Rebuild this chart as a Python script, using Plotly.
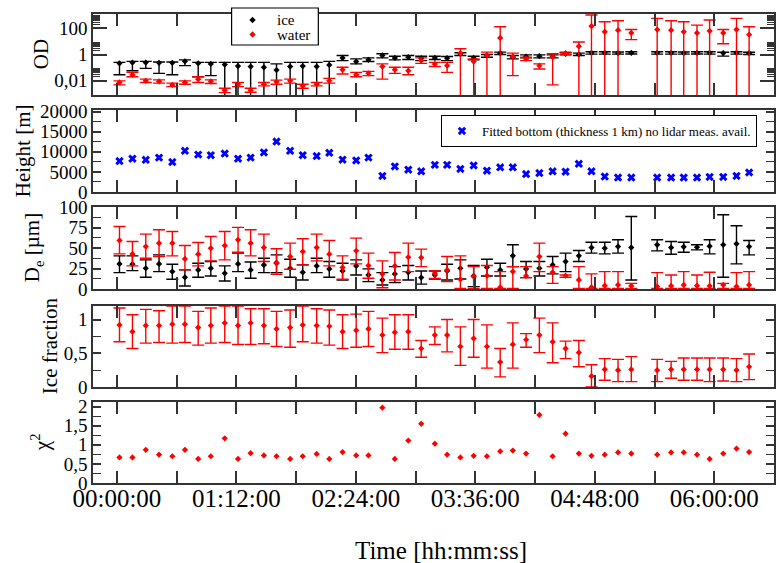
import plotly.graph_objects as go

# ---------------------------------------------------------------- data
times = [
    "00:01:34", "00:09:22", "00:17:24", "00:25:24", "00:33:24", "00:41:00",
    "00:49:00", "00:56:36", "01:05:00", "01:13:00", "01:20:36", "01:28:36",
    "01:36:12", "01:44:24", "01:52:00", "02:00:24", "02:08:00", "02:16:00",
    "02:24:12", "02:31:36", "02:40:00", "02:47:30", "02:55:36", "03:03:24",
    "03:11:36", "03:19:00", "03:27:00", "03:35:00", "03:43:00", "03:51:00",
    "03:58:36", "04:06:36", "04:14:36", "04:22:36", "04:30:24", "04:38:24",
    "04:46:00", "04:54:00", "05:02:00", "05:10:00", "05:25:36", "05:34:00",
    "05:41:36", "05:49:36", "05:57:12", "06:05:24", "06:13:24", "06:21:00",
]

# optical depth (lower bound 1e-5 = below the plotted range)
od_ice = [0.21, 0.24, 0.24, 0.23, 0.23, 0.30, 0.21, 0.19, 0.17, 0.13,
          0.12, 0.105, 0.065, 0.12, 0.13, 0.12, 0.16, 0.55, 0.29, 0.39,
          0.84, 0.55, 0.62, 0.52, 0.55, 0.52, 1.13, 0.55, 0.84, 1.27,
          0.62, 0.70, 0.74, 0.70, 1.13, 1.0, 1.35, 1.35, 1.30, 1.35,
          1.35, 1.35, 1.30, 1.35, 1.35, 1.30, 1.35, 1.25]
od_ice_hi = [0.25, 0.30, 0.30, 0.27, 0.27, 0.39, 0.25, 0.25, 0.25, 0.25,
             0.25, 0.25, 0.19, 0.25, 0.25, 0.25, 0.30, 0.84, 0.46, 0.55,
             1.13, 0.74, 0.84, 0.74, 0.74, 0.70, 1.35, 0.74, 1.0, 1.52,
             0.84, 0.94, 0.94, 0.94, 1.35, 1.27, 1.61, 1.61, 1.55, 1.61,
             1.61, 1.61, 1.55, 1.61, 1.61, 1.50, 1.61, 1.50]
od_ice_lo = [0.028, 0.057, 0.087, 0.036, 0.028, 0.14, 0.020, 0.024, 1e-5, 1e-5,
             1e-5, 1e-5, 1e-5, 1e-5, 1e-5, 1e-5, 1e-5, 0.34, 0.19, 0.29,
             0.55, 0.39, 0.41, 0.34, 0.41, 0.34, 0.84, 0.39, 0.62, 1.0,
             0.46, 0.55, 0.55, 0.55, 0.94, 0.84, 1.06, 1.06, 1.06, 1.10,
             1.06, 1.06, 1.06, 1.10, 1.06, 0.75, 1.06, 1.00]

od_water = [0.0072, 0.028, 0.0096, 0.0086, 0.0047, 0.0072, 0.013, 0.0086, 0.0018, 0.0053,
            0.0018, 0.0053, 0.0081, 0.0096, 0.0040, 0.0053, 0.0096, 0.069, 0.028, 0.036,
            0.12, 0.069, 0.057, 0.34, 0.19, 0.14, 1.27, 0.29, 0.84, 18.5,
            0.70, 0.46, 0.14, 0.62, 1.27, 4.2, 148, 54, 72, 45,
            81, 72, 54, 45, 64, 45, 81, 33]
od_water_hi = [0.0096, 0.043, 0.013, 0.0115, 0.0064, 0.0096, 0.020, 0.0115, 0.0026, 0.0072,
               0.0026, 0.0072, 0.011, 0.013, 0.0053, 0.0072, 0.015, 0.105, 0.043, 0.051,
               0.19, 0.105, 0.105, 0.55, 0.25, 0.25, 2.75, 0.46, 1.52, 132,
               1.27, 0.62, 0.19, 1.13, 1.52, 9.0, 1050, 322, 383, 81,
               580, 383, 322, 177, 434, 81, 580, 132]
od_water_lo = [0.0047, 0.020, 0.0072, 0.0064, 0.0035, 0.0053, 0.0072, 0.0060, 0.0012, 0.0035,
               0.0013, 0.0040, 0.0053, 0.0064, 0.0026, 0.0040, 0.0064, 0.032, 0.020, 0.024,
               0.013, 0.036, 0.028, 0.21, 0.12, 0.043, 1e-5, 1e-5, 1e-5, 1e-5,
               0.024, 0.34, 0.077, 0.0047, 1.0, 1e-5, 1e-5, 1e-5, 1e-5, 13.7,
               1e-5, 1e-5, 1e-5, 1e-5, 1e-5, 6.7, 1e-5, 1e-5]

# cloud height [m]
height = [7700, 8300, 8000, 8550, 7450, 10250, 9300, 9150, 9550, 8300,
          8550, 9850, 12550, 10250, 9150, 8950, 9750, 8050, 7850, 8550,
          4000, 6350, 5550, 5150, 6750, 6750, 5750, 6600, 5300, 6150,
          6150, 4450, 4700, 5150, 5050, 7000, 5150, 3850, 3600, 3600,
          3600, 3600, 3600, 3600, 3750, 3750, 4000, 4850]

# effective diameter [um]
de_ice = [30.6, 30.2, 25.3, 30.6, 21.2, 14.3, 23.3, 25.3, 19.2, 30.6,
          23.3, 29.4, 31.4, 25.3, 20.4, 28.2, 24.5, 22.0, 28.2, 17.1,
          11.0, 18.4, 20.4, 14.0, 17.0, 22.0, 25.3, 15.9, 26.5, 23.3,
          40.4, 24.5, 25.3, 29.4, 33.5, 40.4, 50.6, 49.8, 51.8, 50.6,
          53.9, 50.6, 51.4, 51.0, 52.2, 53.9, 55.1, 51.8]
de_ice_hi = [40.4, 40.4, 35.5, 41.6, 30.2, 23.3, 31.4, 33.5, 28.2, 43.7,
             33.0, 37.5, 41.6, 36.3, 29.4, 37.5, 33.5, 31.4, 35.5, 24.5,
             20.0, 27.3, 28.6, 22.0, 22.0, 30.2, 35.5, 28.6, 36.3, 31.4,
             53.9, 33.5, 33.5, 39.6, 43.7, 46.9, 57.1, 57.1, 60.0, 88.5,
             60.0, 57.9, 57.1, 53.9, 60.0, 90.6, 77.1, 59.2]
de_ice_lo = [20.0, 22.4, 14.3, 21.2, 11.8, 3.7, 14.3, 15.9, 9.8, 21.2,
             13.1, 20.0, 20.0, 14.3, 11.0, 20.0, 14.3, 11.0, 17.1, 9.0,
             4.9, 7.8, 11.0, 6.0, 12.0, 11.0, 12.2, 2.9, 15.9, 15.9,
             27.3, 13.9, 15.9, 18.4, 21.2, 33.5, 43.7, 42.8, 43.7, 11.0,
             46.5, 42.4, 44.9, 47.7, 42.8, 14.3, 30.6, 41.6]

de_water = [59.2, 42.8, 51.8, 55.9, 55.9, 36.7, 42.4, 49.8, 53.0, 60.0,
            55.9, 50.6, 32.2, 39.6, 45.7, 50.6, 42.4, 26.1, 46.5, 28.6,
            18.4, 28.2, 38.8, 38.4, 19.2, 23.3, 11.8, 15.1, 16.3, 2.0,
            21.2, 15.9, 39.6, 20.4, 16.3, 11.0, 2.0, 4.0, 4.9, 3.7,
            2.9, 3.7, 4.9, 4.0, 3.7, 4.9, 2.9, 4.9]
de_water_hi = [76.3, 57.9, 66.9, 72.2, 70.2, 53.0, 56.7, 64.1, 70.2, 75.1,
               72.2, 66.9, 49.0, 55.9, 61.2, 66.9, 59.2, 40.4, 62.0, 43.7,
               34.3, 44.5, 55.9, 48.6, 22.0, 39.6, 40.4, 27.3, 28.6, 21.2,
               27.3, 27.3, 55.9, 27.3, 17.1, 27.3, 18.4, 21.2, 21.2, 6.9,
               20.0, 17.1, 21.2, 17.1, 20.4, 6.9, 20.0, 21.2]
de_water_lo = [42.8, 28.2, 37.5, 39.6, 40.4, 23.3, 28.2, 34.3, 35.5, 44.9,
               40.4, 33.5, 18.0, 24.1, 29.4, 34.3, 28.2, 11.8, 30.6, 13.1,
               1.6, 11.0, 21.2, 27.3, 13.0, 9.0, 0.8, 0.8, 0.8, 0.8,
               0.8, 13.9, 21.2, 6.9, 14.3, 0.8, 0.8, 0.8, 0.8, 0.8,
               0.8, 0.8, 0.8, 0.8, 0.8, 0.8, 0.8, 0.8]

ice_frac = [0.92, 0.82, 0.91, 0.91, 0.93, 0.93, 0.88, 0.91, 0.95, 0.91,
            0.95, 0.91, 0.86, 0.88, 0.92, 0.91, 0.90, 0.82, 0.84, 0.86,
            0.77, 0.81, 0.82, 0.57, 0.77, 0.77, 0.60, 0.72, 0.60, 0.37,
            0.63, 0.70, 0.77, 0.67, 0.57, 0.51, 0.16, 0.26, 0.25, 0.26,
            0.25, 0.26, 0.26, 0.26, 0.26, 0.26, 0.25, 0.30]
ice_frac_hi = [1.17, 1.07, 1.15, 1.13, 1.20, 1.20, 1.12, 1.17, 1.20, 1.20,
               1.16, 1.16, 1.12, 1.14, 1.20, 1.16, 1.14, 1.07, 1.08, 1.12,
               1.02, 1.07, 1.07, 0.69, 0.89, 1.00, 0.89, 1.00, 0.92, 0.57,
               0.95, 0.79, 1.02, 0.95, 0.68, 0.69, 0.33, 0.42, 0.41, 0.45,
               0.41, 0.38, 0.43, 0.43, 0.43, 0.43, 0.42, 0.49]
ice_frac_lo = [0.67, 0.57, 0.65, 0.66, 0.65, 0.66, 0.62, 0.65, 0.66, 0.63,
               0.63, 0.64, 0.60, 0.59, 0.67, 0.65, 0.62, 0.57, 0.59, 0.60,
               0.51, 0.56, 0.56, 0.44, 0.63, 0.52, 0.32, 0.44, 0.28, 0.15,
               0.28, 0.59, 0.51, 0.36, 0.42, 0.30, 0.00, 0.10, 0.08, 0.08,
               0.08, 0.13, 0.10, 0.10, 0.08, 0.09, 0.08, 0.11]

chi2 = [0.67, 0.67, 0.87, 0.74, 0.70, 0.87, 0.63, 0.70, 1.17, 0.63,
        0.78, 0.72, 0.70, 0.63, 0.70, 0.76, 0.63, 0.81, 0.72, 0.72,
        1.97, 0.63, 1.11, 1.55, 1.03, 0.74, 0.67, 0.71, 0.70, 0.83,
        0.85, 0.77, 1.78, 0.70, 1.29, 0.77, 0.71, 0.74, 0.80, 0.77,
        0.74, 0.80, 0.80, 0.74, 0.63, 0.77, 0.90, 0.81]

# tick labels (comma as decimal separator)
od_ticks = [0.01, 1, 100]
od_ticktext = ["0,01", "1", "100"]
height_ticks = [0, 5000, 10000, 15000, 20000]
height_ticktext = ["0", "5000", "10000", "15000", "20000"]
de_ticks = [0, 25, 50, 75, 100]
de_ticktext = ["0", "25", "50", "75", "100"]
frac_ticks = [0, 0.5, 1]
frac_ticktext = ["0", "0,5", "1"]
chi_ticks = [0, 0.5, 1, 1.5, 2]
chi_ticktext = ["0", "0,5", "1", "1,5", "2"]

# ---------------------------------------------------------------- styling
FONT = "Liberation Serif"
FRAME = "#333333"
RED = "#ff0000"
DAY = "2000-01-01 "
x = [DAY + t for t in times]
MSIZE = 4.8


def err(val, hi, lo, color):
    return dict(type="data", symmetric=False,
                array=[h - v for v, h in zip(val, hi)],
                arrayminus=[v - l for v, l in zip(val, lo)],
                color=color, thickness=1.4, width=6)


def diamonds(color, size=MSIZE):
    return dict(symbol="diamond", size=size, color=color, line=dict(width=0))


fig = go.Figure()

# panel 1: optical depth
fig.add_trace(go.Scatter(x=x, y=od_ice, mode="markers", name="ice", showlegend=False,
                         marker=diamonds("black"),
                         error_y=err(od_ice, od_ice_hi, od_ice_lo, "black"),
                         xaxis="x", yaxis="y"))
fig.add_trace(go.Scatter(x=x, y=od_water, mode="markers", name="water", showlegend=False,
                         marker=diamonds(RED),
                         error_y=err(od_water, od_water_hi, od_water_lo, RED),
                         xaxis="x", yaxis="y"))
# panel 2: height
fig.add_trace(go.Scatter(x=x, y=height, mode="markers",
                         name="Fitted bottom (thickness 1 km) no lidar meas. avail.",
                         marker=dict(symbol="x", size=7.5, color="#0000ff",
                                     line=dict(width=0)),
                         legend="legend2", xaxis="x2", yaxis="y2"))
# panel 3: effective diameter
fig.add_trace(go.Scatter(x=x, y=de_ice, mode="markers", showlegend=False,
                         marker=diamonds("black"),
                         error_y=err(de_ice, de_ice_hi, de_ice_lo, "black"),
                         xaxis="x3", yaxis="y3"))
fig.add_trace(go.Scatter(x=x, y=de_water, mode="markers", showlegend=False,
                         marker=diamonds(RED),
                         error_y=err(de_water, de_water_hi, de_water_lo, RED),
                         xaxis="x3", yaxis="y3"))
# panel 4: ice fraction
fig.add_trace(go.Scatter(x=x, y=ice_frac, mode="markers", showlegend=False,
                         marker=diamonds(RED),
                         error_y=err(ice_frac, ice_frac_hi, ice_frac_lo, RED),
                         xaxis="x4", yaxis="y4"))
# panel 5: chi square
fig.add_trace(go.Scatter(x=x, y=chi2, mode="markers", showlegend=False,
                         marker=diamonds(RED), xaxis="x5", yaxis="y5"))

# ---------------------------------------------------------------- axes
W, H = 779, 563
ML, MR, MT, MB = 93, 3, 14, 80
PH = H - MT - MB


def dom(top_px, bottom_px):
    return [(H - MB - bottom_px) / PH, (H - MB - top_px) / PH]


def px_x(p):
    return (p - ML) / (W - ML - MR)


def px_y(p):
    return (H - MB - p) / PH


domains = [dom(14, 95), dom(110, 192), dom(207, 289), dom(306, 387), dom(402, 483)]

xrange_ = ["1999-12-31 23:45:36", DAY + "06:36:00"]
MIN = 60 * 1000

common = dict(showline=True, mirror="ticks", linecolor=FRAME, linewidth=1.5,
              showgrid=False, zeroline=False, tickcolor=FRAME,
              tickfont=dict(family=FONT, size=19, color="black"))

for i in range(5):
    sfx = "" if i == 0 else str(i + 1)
    fig.layout["xaxis" + sfx] = dict(
        common, type="date", range=xrange_, anchor="y" + sfx,
        domain=[0, 1], tickformat="%H:%M:%S", tick0=DAY + "00:00:00",
        dtick=72 * MIN, ticks="inside", ticklen=12, tickwidth=1.5,
        minor=dict(dtick=36 * MIN, ticks="inside", ticklen=12,
                   tickwidth=1.5, tickcolor=FRAME),
        showticklabels=(i == 4), ticklabelstandoff=-8,
        tickfont=dict(family=FONT, size=25, color="black"),
    )

od_minor = [k * 10.0 ** d for d in (-4, -2, 0, 2) for k in range(2, 10)]

yaxes = [
    dict(type="log", range=[-3.1, 3.1], tickvals=od_ticks, ticktext=od_ticktext,
         ticklen=14, minor=dict(tickvals=od_minor, ticks="inside", ticklen=7,
                                tickcolor=FRAME, tickwidth=1.2)),
    dict(range=[0, 20400], tickvals=height_ticks, ticktext=height_ticktext,
         ticklen=8, minor=dict(tickvals=[2500, 7500, 12500, 17500], ticks="inside",
                               ticklen=8, tickcolor=FRAME, tickwidth=1.2)),
    dict(range=[0, 100], tickvals=de_ticks, ticktext=de_ticktext,
         ticklen=8, minor=dict(tickvals=[12.5, 37.5, 62.5, 87.5], ticks="inside",
                               ticklen=8, tickcolor=FRAME, tickwidth=1.2)),
    dict(range=[0, 1.2], tickvals=frac_ticks, ticktext=frac_ticktext,
         ticklen=8, minor=dict(tickvals=[0.25, 0.75], ticks="inside",
                               ticklen=8, tickcolor=FRAME, tickwidth=1.2)),
    dict(range=[0, 2.12], tickvals=chi_ticks, ticktext=chi_ticktext,
         ticklen=8, minor=dict(tickvals=[0.25, 0.75, 1.25, 1.75], ticks="inside",
                               ticklen=8, tickcolor=FRAME, tickwidth=1.2)),
]
for i, ya in enumerate(yaxes):
    sfx = "" if i == 0 else str(i + 1)
    fig.layout["yaxis" + sfx] = dict(common, anchor="x" + sfx, domain=domains[i],
                                     ticks="inside", tickwidth=1.5, **ya)

# ---------------------------------------------------------------- titles
ytitles = [("OD", 41, 54), ("Height [m]", 23, 151), ("D<sub>e</sub> [µm]", 33, 248),
           ("Ice fraction", 50, 346), ("χ<sup>2</sup>", 40, 442)]
annotations = [dict(text=t, x=px_x(cx), y=px_y(cy), xref="paper", yref="paper",
                    textangle=-90, showarrow=False, xanchor="center", yanchor="middle",
                    font=dict(family=FONT, size=21, color="black"))
               for t, cx, cy in ytitles]
annotations.append(dict(text="Time [hh:mm:ss]", x=px_x(442), y=px_y(550),
                        xref="paper", yref="paper", showarrow=False,
                        xanchor="center", yanchor="middle",
                        font=dict(family=FONT, size=25, color="black")))

# ---------------------------------------------------------------- OD key (ice / water)
key_entries = [("ice", "black", 20), ("water", RED, 34.5)]
shapes = [dict(type="rect", xref="paper", yref="paper",
               x0=px_x(232), x1=px_x(319), y0=px_y(45), y1=px_y(8),
               line=dict(color="black", width=1.2), fillcolor="white", layer="above")]
for label, color, ky in key_entries:
    shapes.append(dict(type="path", xref="paper", yref="paper",
                       xsizemode="pixel", ysizemode="pixel",
                       xanchor=px_x(253), yanchor=px_y(ky),
                       path="M0,3.2 L3.2,0 L0,-3.2 L-3.2,0 Z",
                       fillcolor=color, line=dict(width=0), layer="above"))
    annotations.append(dict(text=label, x=px_x(276), y=px_y(ky), xref="paper", yref="paper",
                            showarrow=False, xanchor="left", yanchor="middle",
                            font=dict(family=FONT, size=15, color="black")))

fig.update_layout(
    width=W, height=H,
    margin=dict(l=ML, r=MR, t=MT, b=MB, pad=0),
    paper_bgcolor="white", plot_bgcolor="white",
    showlegend=True,
    annotations=annotations,
    shapes=shapes,
    legend2=dict(x=px_x(442), y=px_y(115), xanchor="left", yanchor="top",
                 bgcolor="white", bordercolor="black", borderwidth=1,
                 font=dict(family=FONT, size=13, color="black")),
)

fig.write_html("out.html")
